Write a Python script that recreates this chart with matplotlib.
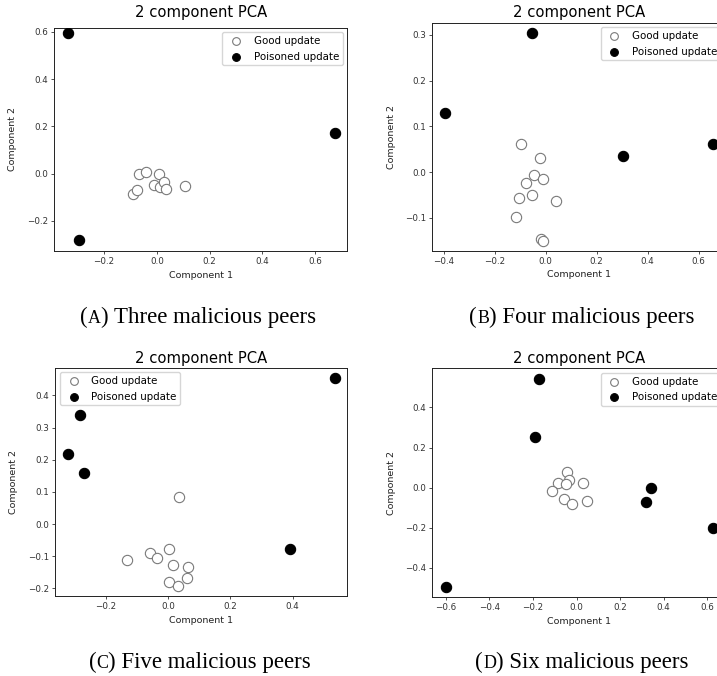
import matplotlib
matplotlib.use("Agg")
import matplotlib.pyplot as plt
from matplotlib.offsetbox import TextArea, HPacker, AnnotationBbox

# ---- data ----
good_a_x = [-0.089, -0.075, -0.068, -0.042, 0.010, -0.009, 0.011, 0.029, 0.035, 0.108]
good_a_y = [-0.085, -0.068, -0.003, 0.006, 0.000, -0.048, -0.056, -0.034, -0.065, -0.051]
bad_a_x = [-0.337, -0.296, 0.675]
bad_a_y = [0.596, -0.282, 0.171]

good_b_x = [-0.097, -0.021, -0.047, -0.077, -0.009, -0.106, -0.055, 0.042, -0.115, -0.018, -0.011]
good_b_y = [0.061, 0.031, -0.007, -0.023, -0.015, -0.057, -0.050, -0.063, -0.098, -0.147, -0.150]
bad_b_x = [-0.055, -0.394, 0.304, 0.656]
bad_b_y = [0.305, 0.129, 0.035, 0.061]

good_c_x = [0.034, -0.133, -0.060, -0.037, 0.002, 0.015, 0.064, 0.059, 0.002, 0.033]
good_c_y = [0.083, -0.112, -0.090, -0.105, -0.078, -0.128, -0.135, -0.167, -0.181, -0.194]
bad_c_x = [0.536, -0.284, -0.323, -0.272, 0.392]
bad_c_y = [0.453, 0.338, 0.219, 0.160, -0.079]

good_d_x = [-0.044, -0.035, -0.087, -0.050, 0.028, -0.113, -0.056, -0.021, 0.050]
good_d_y = [0.078, 0.037, 0.023, 0.020, 0.023, -0.018, -0.055, -0.081, -0.068]
bad_d_x = [-0.174, -0.189, 0.342, 0.318, 0.626, -0.600]
bad_d_y = [0.542, 0.254, 0.000, -0.073, -0.200, -0.495]

caption_letters = ["A", "B", "C", "D"]
caption_texts = ["Three malicious peers", "Four malicious peers",
                 "Five malicious peers", "Six malicious peers"]
title_text = "2 component PCA"
xlabel_text = "Component 1"
ylabel_text = "Component 2"
legend_labels = ["Good update", "Poisoned update"]

xticks = [[-0.2, 0.0, 0.2, 0.4, 0.6], [-0.4, -0.2, 0.0, 0.2, 0.4, 0.6],
          [-0.2, 0.0, 0.2, 0.4], [-0.6, -0.4, -0.2, 0.0, 0.2, 0.4, 0.6]]
yticks = [[-0.2, 0.0, 0.2, 0.4, 0.6], [-0.1, 0.0, 0.1, 0.2, 0.3],
          [-0.2, -0.1, 0.0, 0.1, 0.2, 0.3, 0.4], [-0.4, -0.2, 0.0, 0.2, 0.4]]

# ---- layout ----
W, H = 717, 676
fig = plt.figure(figsize=(W / 100, H / 100), dpi=100)

def px_axes(left, top, right, bottom):
    return fig.add_axes([left / W, 1 - bottom / H, (right - left) / W, (bottom - top) / H])

panels = [
    dict(box=(54, 27.7, 347.3, 251), xl=(-0.39, 0.7225), yl=(-0.327, 0.617),
         g=(good_a_x, good_a_y), b=(bad_a_x, bad_a_y), loc="upper right", tpad=7.9),
    dict(box=(432.3, 22.7, 725.5, 250.7), xl=(-0.445, 0.705), yl=(-0.1722, 0.3267),
         g=(good_b_x, good_b_y), b=(bad_b_x, bad_b_y), loc="upper right", tpad=4.4),
    dict(box=(55, 367.7, 347.3, 596), xl=(-0.364, 0.576), yl=(-0.2237, 0.486),
         g=(good_c_x, good_c_y), b=(bad_c_x, bad_c_y), loc="upper left", tpad=3.3),
    dict(box=(432.3, 368.3, 725.5, 597.3), xl=(-0.6615, 0.6835), yl=(-0.5467, 0.5955),
         g=(good_d_x, good_d_y), b=(bad_d_x, bad_d_y), loc="upper right", tpad=3.6),
]

caption_pos = [(198, 317), (582, 317), (200, 662), (582, 662)]
cap_font = "Liberation Serif"
cap_size = 16.5

for i, p in enumerate(panels):
    ax = px_axes(*p["box"])
    ax.scatter(p["g"][0], p["g"][1], s=55, facecolors="white", edgecolors="#7a7a7a",
               linewidths=0.8, label=legend_labels[0], zorder=3)
    ax.scatter(p["b"][0], p["b"][1], s=55, facecolors="black", edgecolors="black",
               linewidths=0.8, label=legend_labels[1], zorder=3)
    ax.set_xlim(*p["xl"])
    ax.set_ylim(*p["yl"])
    ax.set_xticks(xticks[i])
    ax.set_yticks(yticks[i])
    ax.tick_params(labelsize=6.3, length=2.2, width=0.6, pad=2, colors="#333333")
    for sp in ax.spines.values():
        sp.set_linewidth(0.7)
        sp.set_color("#222222")
    ax.set_title(title_text, fontsize=10.6, pad=p["tpad"])
    ax.set_xlabel(xlabel_text, fontsize=6.8, labelpad=3.5, color="#222222")
    ax.set_ylabel(ylabel_text, fontsize=6.8, labelpad=7, color="#222222")
    ax.legend(loc=p["loc"], fontsize=7.4, borderaxespad=0.45, handletextpad=0.7,
              borderpad=0.35, labelspacing=0.55, handlelength=2.0, markerscale=0.75,
              frameon=True)

    # caption with small-caps letter
    cx, cy = caption_pos[i]
    parts = [
        TextArea("(", textprops=dict(family=cap_font, fontsize=cap_size)),
        TextArea(caption_letters[i], textprops=dict(family=cap_font, fontsize=cap_size * 0.78)),
        TextArea(") " + caption_texts[i], textprops=dict(family=cap_font, fontsize=cap_size)),
    ]
    pack = HPacker(children=parts, align="baseline", pad=0, sep=0)
    ab = AnnotationBbox(pack, (cx / W, 1 - cy / H), xycoords="figure fraction",
                        frameon=False, box_alignment=(0.5, 0.5), pad=0)
    fig.add_artist(ab)

fig.savefig("out.png", dpi=100)
